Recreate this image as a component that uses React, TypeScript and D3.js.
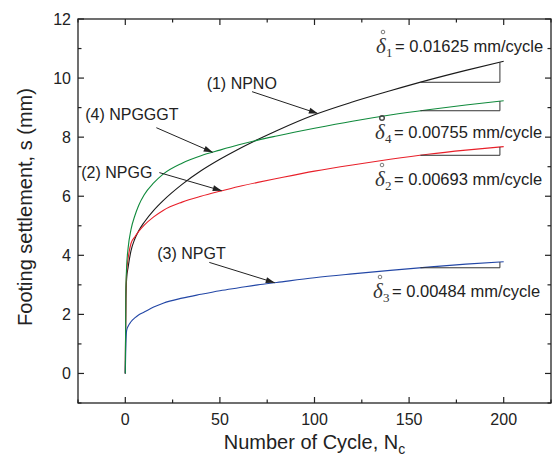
import React from 'react';
import * as d3 from 'd3';

// number of cycles (shared x grid for all curves)
const cycles = [0, 0.3, 0.7, 1.5, 3, 5, 7, 10, 15, 20, 30, 40, 50, 60, 70, 80, 100, 120, 140, 160, 180, 200];
// settlement (mm)
const npno = [0, 2.5, 3.2, 3.6, 4.15, 4.55, 4.82, 5.12, 5.52, 5.85, 6.4, 6.86, 7.25, 7.6, 7.92, 8.22, 8.76, 9.19, 9.57, 9.93, 10.26, 10.57];
const npgg = [0, 2.6, 3.4, 3.9, 4.4, 4.62, 4.8, 5.02, 5.3, 5.52, 5.8, 6.0, 6.17, 6.33, 6.47, 6.6, 6.85, 7.06, 7.25, 7.42, 7.56, 7.68];
const npgt = [0, 1.0, 1.45, 1.6, 1.75, 1.88, 1.98, 2.08, 2.25, 2.38, 2.55, 2.68, 2.8, 2.9, 3.0, 3.08, 3.24, 3.37, 3.49, 3.6, 3.7, 3.78];
const npgggt = [0, 2.8, 3.6, 4.25, 4.87, 5.33, 5.68, 6.05, 6.45, 6.75, 7.12, 7.37, 7.56, 7.74, 7.9, 8.04, 8.3, 8.54, 8.75, 8.93, 9.09, 9.23];

const xTicks = [0, 50, 100, 150, 200];
const yTicks = [0, 2, 4, 6, 8, 10, 12];
const xMinor = [-25, 25, 75, 125, 175, 225];
const yMinor = [-1, 1, 3, 5, 7, 9, 11];

// slope triangle range (cycles)
const slopeFrom = 156;
const slopeTo = 198;

const series = [
  { name: '(1) NPNO', values: npno, color: '#1a1a1a', label: [43, 9.64], from: [67, 9.54], tip: 101.8 },
  { name: '(2) NPGG', values: npgg, color: '#e8202a', label: [-23.3, 6.63], from: [18, 6.8], tip: 51 },
  { name: '(3) NPGT', values: npgt, color: '#2347a6', label: [16.9, 3.86], from: [44.4, 3.76], tip: 79 },
  { name: '(4) NPGGGT', values: npgggt, color: '#108a3c', label: [-21.2, 8.59], from: [16.4, 8.32], tip: 46.2 },
];

// slope annotations: text, subscript, baseline (px)
const slopes = [
  { sub: '1', text: '= 0.01625 mm/cycle', x: 376, y: 52, bold: false },
  { sub: '4', text: '= 0.00755 mm/cycle', x: 375, y: 138, bold: true },
  { sub: '2', text: '= 0.00693 mm/cycle', x: 375, y: 185, bold: false },
  { sub: '3', text: '= 0.00484 mm/cycle', x: 373, y: 297, bold: false },
];

const W = 552;
const H = 459;
const left = 78;
const right = 551;
const top = 19;
const bottom = 403;

const x = d3.scaleLinear().domain([-25, 225]).range([left, right]);
const y = d3.scaleLinear().domain([-1, 12]).range([bottom, top]);

const interp = (vals: number[], c: number) => {
  const i = d3.bisectRight(cycles, c) - 1;
  if (i >= cycles.length - 1) return vals[vals.length - 1];
  const t = (c - cycles[i]) / (cycles[i + 1] - cycles[i]);
  return vals[i] + t * (vals[i + 1] - vals[i]);
};

const font = '"Liberation Sans", Arial, sans-serif';
const serif = '"Liberation Serif", "Times New Roman", serif';
const axisColor = '#222';

export default function App() {
  const line = d3
    .line<number>()
    .x((_, i) => x(cycles[i]))
    .y((d) => y(d))
    .curve(d3.curveMonotoneX);

  const arrowHead = (x1: number, y1: number, x2: number, y2: number) => {
    const a = Math.atan2(y2 - y1, x2 - x1);
    const len = 9;
    const w = 3;
    const bx = x2 - len * Math.cos(a);
    const by = y2 - len * Math.sin(a);
    const px = -Math.sin(a) * w;
    const py = Math.cos(a) * w;
    return `${x2},${y2} ${bx + px},${by + py} ${bx - px},${by - py}`;
  };

  return (
    <svg width={W} height={H} style={{ position: 'absolute', left: 0, top: 0 }} fontFamily={font}>
      <rect width={W} height={H} fill="white" />

      {/* curves */}
      {series.map((s) => (
        <path key={s.name} d={line(s.values) || ''} fill="none" stroke={s.color} strokeWidth={1.1} />
      ))}

      {/* slope triangles */}
      {series.map((s) => {
        const y0 = y(interp(s.values, slopeFrom));
        const y1 = y(interp(s.values, slopeTo));
        return (
          <polyline
            key={'tri' + s.name}
            points={`${x(slopeFrom)},${y0} ${x(slopeTo)},${y0} ${x(slopeTo)},${y1}`}
            fill="none"
            stroke="#333"
            strokeWidth={1}
          />
        );
      })}

      {/* labels and arrows */}
      {series.map((s) => {
        const fx = x(s.from[0]);
        const fy = y(s.from[1]);
        const tx = x(s.tip);
        const ty = y(interp(s.values, s.tip));
        return (
          <g key={'lab' + s.name}>
            <text x={x(s.label[0])} y={y(s.label[1])} fontSize={16} fill="#222">
              {s.name}
            </text>
            <line x1={fx} y1={fy} x2={tx} y2={ty} stroke="#222" strokeWidth={1} />
            <polygon points={arrowHead(fx, fy, tx, ty)} fill="#222" />
          </g>
        );
      })}

      {/* slope texts */}
      {slopes.map((d) => (
        <g key={d.sub} fill="#333">
          <text x={d.x} y={d.y + 1} fontSize={21} fontStyle="italic" fontFamily={serif}>
            δ
          </text>
          <circle cx={d.x + 7} cy={d.y - 20} r={d.bold ? 2.3 : 1.8} fill="none" stroke="#444" strokeWidth={d.bold ? 1.4 : 0.7} />
          <text x={d.x + 10} y={d.y + 5} fontSize={13} fontFamily={serif}>
            {d.sub}
          </text>
          <text x={d.x + 19} y={d.y} fontSize={16.5} fill="#222">
            {d.text}
          </text>
        </g>
      ))}

      {/* frame */}
      <rect x={left} y={top} width={right - left} height={bottom - top} fill="none" stroke={axisColor} strokeWidth={1.3} />

      {/* x ticks (bottom & top, inward) */}
      {xTicks.map((t) => (
        <g key={'xt' + t}>
          <line x1={x(t)} x2={x(t)} y1={bottom} y2={bottom - 6} stroke={axisColor} strokeWidth={1.2} />
          <line x1={x(t)} x2={x(t)} y1={top} y2={top + 6} stroke={axisColor} strokeWidth={1.2} />
          <text x={x(t)} y={425} fontSize={16} textAnchor="middle" fill="#222">
            {t}
          </text>
        </g>
      ))}
      {xMinor.map((t) => (
        <g key={'xm' + t}>
          <line x1={x(t)} x2={x(t)} y1={bottom} y2={bottom - 3.5} stroke={axisColor} strokeWidth={1.2} />
          <line x1={x(t)} x2={x(t)} y1={top} y2={top + 3.5} stroke={axisColor} strokeWidth={1.2} />
        </g>
      ))}

      {/* y ticks (left & right, inward) */}
      {yTicks.map((t) => (
        <g key={'yt' + t}>
          <line x1={left} x2={left + 6} y1={y(t)} y2={y(t)} stroke={axisColor} strokeWidth={1.2} />
          <line x1={right} x2={right - 6} y1={y(t)} y2={y(t)} stroke={axisColor} strokeWidth={1.2} />
          <text x={71} y={y(t)} dy="0.36em" fontSize={16} textAnchor="end" fill="#222">
            {t}
          </text>
        </g>
      ))}
      {yMinor.map((t) => (
        <g key={'ym' + t}>
          <line x1={left} x2={left + 3.5} y1={y(t)} y2={y(t)} stroke={axisColor} strokeWidth={1.2} />
          <line x1={right} x2={right - 3.5} y1={y(t)} y2={y(t)} stroke={axisColor} strokeWidth={1.2} />
        </g>
      ))}

      {/* axis titles */}
      <text x={(left + right) / 2} y={449} fontSize={20} textAnchor="middle" fill="#222">
        Number of Cycle, N<tspan fontSize={14} dy={5}>c</tspan>
      </text>
      <text transform={`translate(32, 207) rotate(-90)`} fontSize={20} textAnchor="middle" fill="#222">
        Footing settlement, s (mm)
      </text>
    </svg>
  );
}
